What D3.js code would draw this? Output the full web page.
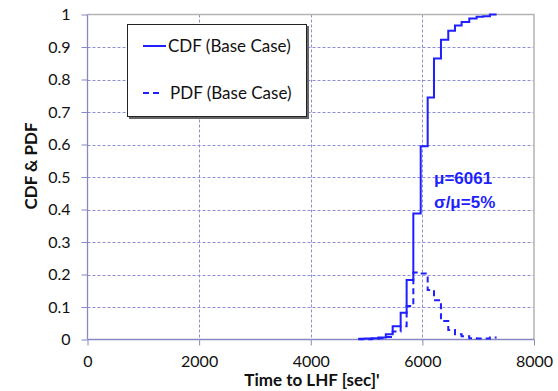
<!DOCTYPE html>
<html>
<head>
<meta charset="utf-8">
<script src="https://cdn.jsdelivr.net/npm/d3@7"></script>
<style>
  body { margin: 0; background: #fff; }
  svg text { font-family: Lato, 'Liberation Sans', sans-serif; fill: #111; }
</style>
</head>
<body>
<div id="graph"></div>
<script>
// Bin edges (sec), CDF level after each edge, PDF level for each bin
var stepX   = [4852, 4970, 5090, 5211, 5345, 5468, 5611, 5718, 5838, 5970, 6095,
               6208, 6333, 6464, 6584, 6703, 6840, 6972, 7090, 7210, 7330];
var cdfBase = [0.002, 0.003, 0.004, 0.006, 0.016, 0.041, 0.082, 0.183, 0.388, 0.595, 0.745,
               0.865, 0.922, 0.950, 0.966, 0.977, 0.988, 0.993, 0.995, 1.000, 1.000];
var pdfBase = [0.001, 0.001, 0.002, 0.004, 0.008, 0.025, 0.041, 0.103, 0.206, 0.203, 0.152,
               0.121, 0.057, 0.029, 0.016, 0.010, 0.004, 0.003, 0.003, 0.006, 0.006];

var xTicks = [0, 2000, 4000, 6000, 8000];
var yTicks = [0, 0.1, 0.2, 0.3, 0.4, 0.5, 0.6, 0.7, 0.8, 0.9, 1];
var legendLabels = ['CDF (Base Case)', 'PDF (Base Case)'];
var noteLines = ['\u03bc=6061', '\u03c3/\u03bc=5%'];

var W = 558, H = 391;
var plotL = 87.5, plotR = 534, plotT = 14.5, plotB = 339.5;
var blue = '#1f1fff';

var svg = d3.select('#graph')
            .append('svg')
            .attr('width', W)
            .attr('height', H);

var xScale = d3.scaleLinear().domain([0, 8000]).range([plotL, plotR]);
var yScale = d3.scaleLinear().domain([0, 1]).range([plotB, plotT]);

// grid lines (dashed)
svg.append('g')
   .selectAll('line')
   .data(yTicks.filter(function (d) { return d > 0 && d < 1; }))
   .enter().append('line')
   .attr('x1', plotL).attr('x2', plotR)
   .attr('y1', function (d) { return Math.round(yScale(d)) + 0.5; })
   .attr('y2', function (d) { return Math.round(yScale(d)) + 0.5; })
   .style('stroke', '#8e8ed6').style('stroke-dasharray', '3,2');

svg.append('g')
   .selectAll('line')
   .data(xTicks.filter(function (d) { return d > 0 && d < 8000; }))
   .enter().append('line')
   .attr('x1', function (d) { return Math.round(xScale(d)) + 0.5; })
   .attr('x2', function (d) { return Math.round(xScale(d)) + 0.5; })
   .attr('y1', plotT).attr('y2', plotB)
   .style('stroke', '#8e8ed6').style('stroke-dasharray', '3,2');

// plot border: top / right grey
svg.append('path')
   .attr('d', 'M' + plotL + ',' + plotT + 'H' + plotR + 'V' + plotB)
   .style('fill', 'none').style('stroke', '#b4b4b4').style('stroke-width', 1.5);

// axes
var yAxis = d3.axisLeft(yScale).tickValues(yTicks).tickSize(6).tickPadding(11)
              .tickFormat(function (d) { return d === 0 || d === 1 ? d : d.toFixed(1); });
var xAxis = d3.axisBottom(xScale).tickValues(xTicks).tickSize(6).tickPadding(10)
              .tickFormat(d3.format('d'));

var gy = svg.append('g').attr('transform', 'translate(' + plotL + ',0)').call(yAxis);
var gx = svg.append('g').attr('transform', 'translate(0,' + plotB + ')').call(xAxis);

[gx, gy].forEach(function (g) {
    g.select('.domain').attr('stroke', '#8888c4').attr('stroke-width', 1.3);
    g.selectAll('.tick line').attr('stroke', '#8888c4');
    g.selectAll('.tick text').style('font-size', '16px').style('font-family', 'Lato, sans-serif').attr('fill', '#111');
});
gx.select('.domain').attr('d', 'M' + plotL + ',0H' + plotR);
gy.select('.domain').attr('d', 'M0,' + plotB + 'V' + plotT);

// axis titles
svg.append('text')
   .attr('x', 312).attr('y', 386)
   .attr('text-anchor', 'middle')
   .style('font-size', '17px').style('font-weight', 'bold')
   .text("Time to LHF [sec]'");

svg.append('text')
   .attr('transform', 'translate(37,166) rotate(-90)')
   .attr('text-anchor', 'middle')
   .style('font-size', '17px').style('font-weight', 'bold')
   .text('CDF & PDF');

// step lines
var stepLine = function (vals) {
    return d3.line()
             .x(function (d, i) { return xScale(stepX[i]); })
             .y(function (d) { return yScale(d); })
             .curve(d3.curveStepAfter)(vals);
};

svg.append('path')
   .attr('d', stepLine(pdfBase))
   .style('fill', 'none').style('stroke', blue).style('stroke-width', 2)
   .style('stroke-dasharray', '6,4');

svg.append('path')
   .attr('d', stepLine(cdfBase))
   .style('fill', 'none').style('stroke', blue).style('stroke-width', 2);

// annotation
svg.selectAll('.note')
   .data(noteLines)
   .enter().append('text')
   .attr('class', 'note')
   .attr('x', 434)
   .attr('y', function (d, i) { return 184 + i * 24; })
   .style('font-family', "'Liberation Sans', Arial, sans-serif")
   .style('font-size', '17px').style('font-weight', 'bold')
   .style('fill', blue)
   .text(function (d) { return d; });

// legend
var lg = svg.append('g');
lg.append('rect').attr('x', 129).attr('y', 26).attr('width', 180).attr('height', 93)
  .style('fill', '#666');
lg.append('rect').attr('x', 127.5).attr('y', 24.5).attr('width', 179).attr('height', 92)
  .style('fill', '#fff').style('stroke', '#222').style('stroke-width', 1);

lg.selectAll('.lgline')
  .data(legendLabels)
  .enter().append('line')
  .attr('x1', 143)
  .attr('x2', function (d, i) { return i ? 160 : 166; })
  .attr('y1', function (d, i) { return 46 + i * 47; })
  .attr('y2', function (d, i) { return 46 + i * 47; })
  .style('stroke', blue).style('stroke-width', 2)
  .style('stroke-dasharray', function (d, i) { return i ? '6,4' : null; });

lg.selectAll('.lgtext')
  .data(legendLabels)
  .enter().append('text')
  .attr('x', function (d, i) { return i ? 170 : 168; })
  .attr('y', function (d, i) { return 51.5 + i * 47; })
  .style('font-size', '17px')
  .text(function (d) { return d; });
</script>
</body>
</html>
